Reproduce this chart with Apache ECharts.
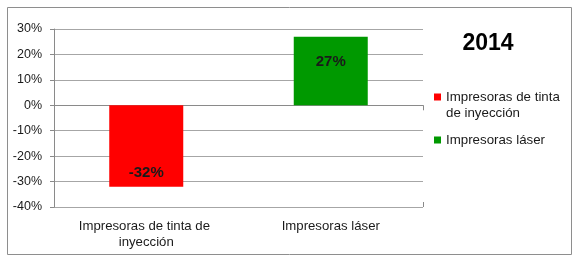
<!DOCTYPE html>
<html>
<head>
<meta charset="utf-8">
<script src="https://cdn.jsdelivr.net/npm/echarts@6/dist/echarts.min.js"></script>
<style>html,body{margin:0;padding:0;background:#fff}#c{width:581px;height:266px}</style>
</head>
<body>
<div id="c"></div>
<script>
var categories = ['Impresoras de tinta de inyección', 'Impresoras láser'];
var seriesNames = ['Impresoras de tinta de inyección', 'Impresoras láser'];
var inkjetValues = [-32, '-'];
var laserValues = ['-', 27];
var yTicks = {min: -40, max: 30, interval: 10};
var titleText = '2014';

var chart = echarts.init(document.getElementById('c'), null, {renderer: 'canvas'});
var FONT = 'Liberation Sans, Arial, sans-serif';
var labelStyle = {show: true, formatter: '{c}%', fontFamily: FONT, fontSize: 15, fontWeight: 'bold', color: '#1a1a1a'};
chart.setOption({
  backgroundColor: '#fff',
  animation: false,
  title: {text: titleText, left: 483, top: 27, textAlign: 'center',
    textStyle: {fontFamily: FONT, fontSize: 23, fontWeight: 'bold', color: '#000'}},
  legend: {orient: 'vertical', left: 434, top: 73, padding: 0, itemWidth: 7, itemHeight: 7, itemGap: 11,
    icon: 'rect', data: seriesNames,
    formatter: function (name) {
      // wrap the long name onto two lines; the leading blank line keeps the marker level with the first text line
      return name === seriesNames[0] ? '\n' + name.replace(' de inyección', '\nde inyección') : name;
    },
    textStyle: {fontFamily: FONT, fontSize: 13.3, color: '#1a1a1a', lineHeight: 16}},
  graphic: [{type: 'rect', shape: {x: 7.5, y: 7.5, width: 564, height: 247}, style: {fill: null, stroke: '#8e8e8e', lineWidth: 1}}],
  grid: {left: 54, right: 158, top: 29, bottom: 59},
  xAxis: [
    {type: 'category', data: categories, position: 'bottom',
     axisLine: {show: false, onZero: false}, axisTick: {show: false},
     axisLabel: {interval: 0, margin: 11, fontFamily: FONT, fontSize: 13.2, color: '#1a1a1a', width: 150, overflow: 'break', lineHeight: 16}},
    {type: 'category', data: categories, position: 'bottom',
     axisLine: {show: true, onZero: true, lineStyle: {color: '#8a8a8a'}},
     axisTick: {show: true, length: 5, lineStyle: {color: '#8a8a8a'}}, axisLabel: {show: false}},
    {type: 'category', data: categories, position: 'bottom',
     axisLine: {show: false, onZero: true},
     axisTick: {show: true, inside: true, length: 5, lineStyle: {color: '#8a8a8a'}}, axisLabel: {show: false}}
  ],
  yAxis: {type: 'value', min: yTicks.min, max: yTicks.max, interval: yTicks.interval,
    axisLine: {show: true, lineStyle: {color: '#8a8a8a'}},
    axisTick: {show: true, length: 4, lineStyle: {color: '#8a8a8a'}},
    axisLabel: {formatter: '{value}%', margin: 12, fontFamily: FONT, fontSize: 12.5, color: '#1a1a1a'},
    splitLine: {lineStyle: {color: '#a6a6a6'}}},
  series: [
    {name: seriesNames[0], type: 'bar', stack: 's', data: inkjetValues, barWidth: 74,
     itemStyle: {color: '#ff0000'}, label: Object.assign({position: 'insideBottom', distance: 6}, labelStyle)},
    {name: seriesNames[1], type: 'bar', stack: 's', data: laserValues, barWidth: 74,
     itemStyle: {color: '#009900'}, label: Object.assign({position: 'insideTop', distance: 18}, labelStyle)}
  ]
});
</script>
</body>
</html>
